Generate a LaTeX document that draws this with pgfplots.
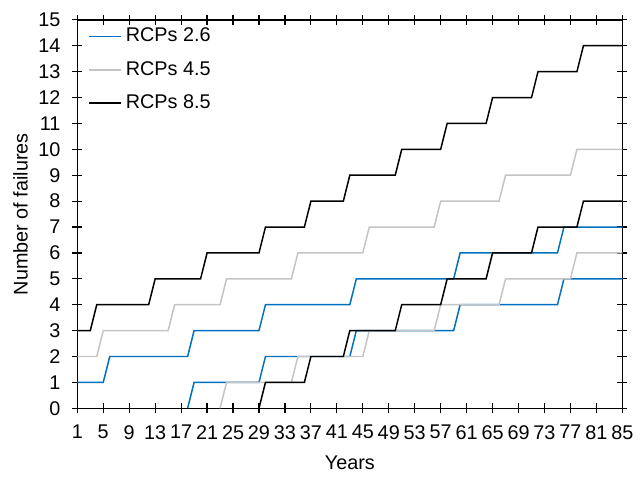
\documentclass[border=0pt]{standalone}
\usepackage{fontspec}
\setmainfont{Liberation Sans}
\usepackage{pgfplots}
\pgfplotsset{compat=1.18}
\definecolor{rcpblue}{HTML}{0070C0}
\definecolor{rcpgray}{HTML}{C4C4C4}

\begin{document}
\begin{tikzpicture}
\begin{axis}[
    width=275pt, height=196pt,
    scale only axis,
    xmin=1, xmax=85, ymin=0, ymax=15,
    xtick={1,5,...,85},
    ytick={0,1,...,15},
    tick align=center,
    major tick length=5pt,
    tick style={black, line width=0.6pt},
    axis line style={line width=0.75pt},
    font=\fontsize{10}{12}\selectfont,
    /pgf/number format/assume math mode=true,
    xticklabel style={font=\fontsize{10}{12}\selectfont, yshift=-2.5pt},
    yticklabel style={font=\fontsize{10}{12}\selectfont, xshift=-2.5pt},
    xlabel={Years},
    ylabel={Number of failures},
    xlabel style={yshift=-1.5pt},
    ylabel style={yshift=-1.5pt},
    legend style={at={(0,1)}, anchor=north west, draw=none, fill=none,
        xshift=2.5pt, yshift=0pt, row sep=4.3pt,
        font=\fontsize{10}{12}\selectfont},
    legend cell align=left,
    legend image code/.code={\draw[#1] (0pt,0pt) -- (16pt,0pt);},
]
% RCPs 2.6
\addplot[rcpblue, line width=0.75pt] coordinates {
    (1,1) (5,1) (6,2) (18,2) (19,3) (29,3) (30,4) (43,4) (44,5)
    (59,5) (60,6) (75,6) (76,7) (85,7)
};
\addlegendentry{RCPs 2.6}
% RCPs 4.5
\addplot[rcpgray, line width=0.75pt] coordinates {
    (1,2) (4,2) (5,3) (15,3) (16,4) (23,4) (24,5) (34,5) (35,6)
    (45,6) (46,7) (56,7) (57,8) (66,8) (67,9) (77,9) (78,10) (85,10)
};
\addlegendentry{RCPs 4.5}
% RCPs 8.5
\addplot[black, line width=0.75pt] coordinates {
    (1,3) (3,3) (4,4) (12,4) (13,5) (20,5) (21,6) (29,6) (30,7)
    (36,7) (37,8) (42,8) (43,9) (50,9) (51,10) (57,10) (58,11)
    (64,11) (65,12) (71,12) (72,13) (78,13) (79,14) (85,14)
};
\addlegendentry{RCPs 8.5}
% lower curves
\addplot[rcpblue, line width=0.75pt, forget plot] coordinates {
    (18,0) (19,1) (29,1) (30,2) (43,2) (44,3) (59,3) (60,4)
    (75,4) (76,5) (85,5)
};
\addplot[rcpgray, line width=0.75pt, forget plot] coordinates {
    (23,0) (24,1) (34,1) (35,2) (45,2) (46,3) (56,3) (57,4)
    (66,4) (67,5) (77,5) (78,6) (85,6)
};
\addplot[black, line width=0.75pt, forget plot] coordinates {
    (29,0) (30,1) (36,1) (37,2) (42,2) (43,3) (50,3) (51,4)
    (57,4) (58,5) (64,5) (65,6) (71,6) (72,7) (78,7) (79,8) (85,8)
};
\end{axis}
% page margins as in the reference
\path ([yshift=10pt]current axis.north west) ([xshift=-39pt,yshift=-31.5pt]current axis.south west);
\end{tikzpicture}
\end{document}
